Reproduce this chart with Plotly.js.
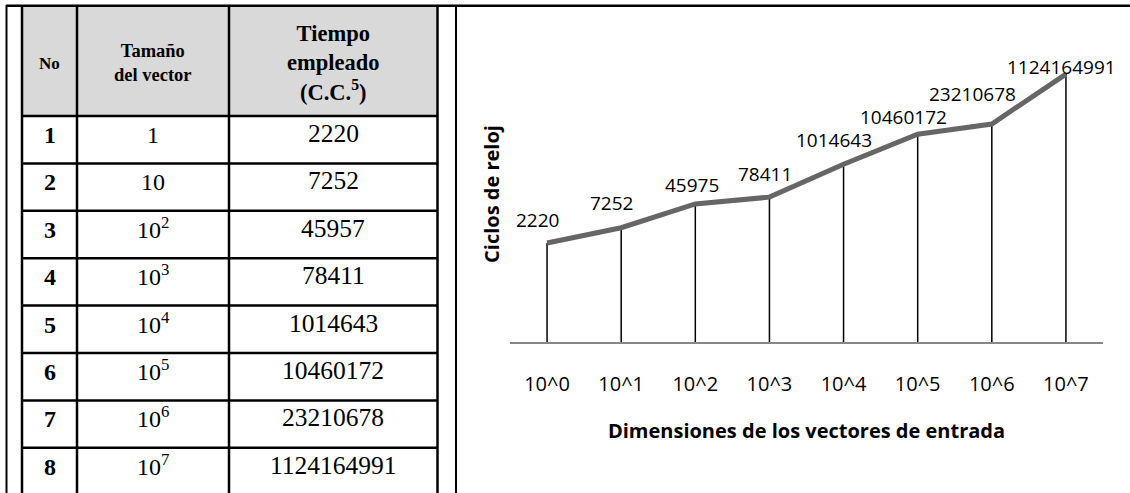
<!DOCTYPE html>
<html>
<head>
<meta charset="utf-8">
<script src="https://cdn.plot.ly/plotly-3.0.1.min.js"></script>
<style>
  html, body { margin: 0; padding: 0; background: #ffffff; }
  #chart { width: 1130px; height: 493px; }
</style>
</head>
<body>
<div id="chart"></div>
<script>
// ---------- Table data ----------
const tableHeaders = ['No', 'Tamaño<br>del vector', 'Tiempo<br>empleado<br>(C.C.<sup>5</sup>)'];
const rowNumbers = ['1', '2', '3', '4', '5', '6', '7', '8'];
const vectorSizes = ['1', '10', '10<sup>2</sup>', '10<sup>3</sup>', '10<sup>4</sup>', '10<sup>5</sup>', '10<sup>6</sup>', '10<sup>7</sup>'];
const tableTimes = ['2220', '7252', '45957', '78411', '1014643', '10460172', '23210678', '1124164991'];

// ---------- Chart data ----------
const categories = ['10^0', '10^1', '10^2', '10^3', '10^4', '10^5', '10^6', '10^7'];
const cycles = [2220, 7252, 45975, 78411, 1014643, 10460172, 23210678, 1124164991];

// ---------- Layout helpers (pixel -> paper) ----------
const W = 1130, H = 493;
const px = x => x / W;
const py = y => 1 - y / H;

const serif = 'Liberation Serif, Times New Roman, serif';
const sans = 'Open Sans, Noto Sans, sans-serif';

// table geometry
const colEdges = [22, 77, 229, 437.5];
const headerTop = 7, headerBottom = 116, rowH = 47.4;
const colCenters = [49.5, 153, 333];
const headerSizes = [17, 18.5, 22.5];

const shapes = [];
const annotations = [];

// header fill
shapes.push({type: 'rect', xref: 'paper', yref: 'paper', x0: px(colEdges[0]), x1: px(colEdges[3]), y0: py(headerTop), y1: py(headerBottom), fillcolor: '#d9d9d9', line: {width: 0}, layer: 'below'});
// outer frame lines
shapes.push({type: 'line', xref: 'paper', yref: 'paper', x0: px(6), x1: px(W), y0: py(5.8), y1: py(5.8), line: {color: '#000', width: 2.5}});
shapes.push({type: 'line', xref: 'paper', yref: 'paper', x0: px(6.5), x1: px(6.5), y0: py(5), y1: py(H), line: {color: '#000', width: 2}});
shapes.push({type: 'line', xref: 'paper', yref: 'paper', x0: px(456), x1: px(456), y0: py(5), y1: py(H), line: {color: '#000', width: 2}});
// table column lines
colEdges.forEach(x => {
  shapes.push({type: 'line', xref: 'paper', yref: 'paper', x0: px(x), x1: px(x), y0: py(headerTop), y1: py(H), line: {color: '#000', width: 2.5}});
});
// table row lines
for (let i = 0; i < rowNumbers.length; i++) {
  const y = headerBottom + i * rowH;
  shapes.push({type: 'line', xref: 'paper', yref: 'paper', x0: px(colEdges[0]), x1: px(colEdges[3]), y0: py(y), y1: py(y), line: {color: '#000', width: 2.5}});
}

// header texts
tableHeaders.forEach((t, j) => {
  annotations.push({xref: 'paper', yref: 'paper', x: px(colCenters[j]), y: py(63), xanchor: 'center', yanchor: 'middle',
    text: t, showarrow: false, align: 'center',
    font: {family: serif, size: headerSizes[j], color: '#000', weight: 'bold'}});
});

// body texts
const columns = [rowNumbers, vectorSizes, tableTimes];
const bodySizes = [24, 24, 25.5];
const bodyWeights = ['bold', 'normal', 'normal'];
for (let i = 0; i < rowNumbers.length; i++) {
  const top = headerBottom + i * rowH;
  columns.forEach((col, j) => {
    annotations.push({xref: 'paper', yref: 'paper', x: px(colCenters[j]), y: py(top + 34), xanchor: 'center', yanchor: 'bottom',
      text: col[i], showarrow: false,
      font: {family: serif, size: bodySizes[j], color: '#000', weight: bodyWeights[j]}});
  });
}

// data labels (offsets in px relative to each point)
const labelShift = [[-10, 23], [-10, 25], [-3, 19], [-4, 23], [-10, 24.5], [-14, 17], [-19.5, 30], [-4, 7]];
cycles.forEach((v, i) => {
  annotations.push({xref: 'x', yref: 'y', x: categories[i], y: Math.log10(v), xanchor: 'center', yanchor: 'middle',
    xshift: labelShift[i][0], yshift: labelShift[i][1], text: String(v), showarrow: false,
    font: {family: sans, size: 19, color: '#000'}});
});

// drop lines from each point to the baseline
const dropX = [], dropY = [];
categories.forEach((c, i) => { dropX.push(c, c, null); dropY.push(1, cycles[i], null); });

const traces = [
  {x: dropX, y: dropY, type: 'scatter', mode: 'lines', line: {color: '#000', width: 1.5}, hoverinfo: 'skip', showlegend: false},
  {x: categories, y: cycles, type: 'scatter', mode: 'lines', line: {color: '#666666', width: 5}, hoverinfo: 'x+y', showlegend: false}
];

const layout = {
  width: W, height: H,
  margin: {l: 0, r: 0, t: 0, b: 0, pad: 0},
  paper_bgcolor: '#ffffff', plot_bgcolor: 'rgba(0,0,0,0)',
  showlegend: false,
  xaxis: {
    type: 'category', domain: [px(510), px(1103)], range: [-0.5, 7.5],
    showline: true, linecolor: '#878787', linewidth: 2, ticks: '', showgrid: false, zeroline: false,
    tickfont: {family: sans, size: 20, color: '#000'}, ticklabelstandoff: 23, automargin: false, fixedrange: true,
    title: {text: 'Dimensiones de los vectores de entrada', font: {family: sans, size: 20, color: '#000', weight: 'bold'}, standoff: 28}
  },
  yaxis: {
    type: 'log', domain: [(H - 342) / H, (H - 46) / H], range: [0, 10],
    showline: false, showgrid: false, zeroline: false, showticklabels: false, ticks: '', automargin: false, fixedrange: true,
    title: {text: 'Ciclos de reloj', font: {family: sans, size: 20, color: '#000', weight: 'bold'}, standoff: 4}
  },
  shapes: shapes,
  annotations: annotations
};

Plotly.newPlot('chart', traces, layout, {displayModeBar: false, staticPlot: true});
</script>
</body>
</html>
